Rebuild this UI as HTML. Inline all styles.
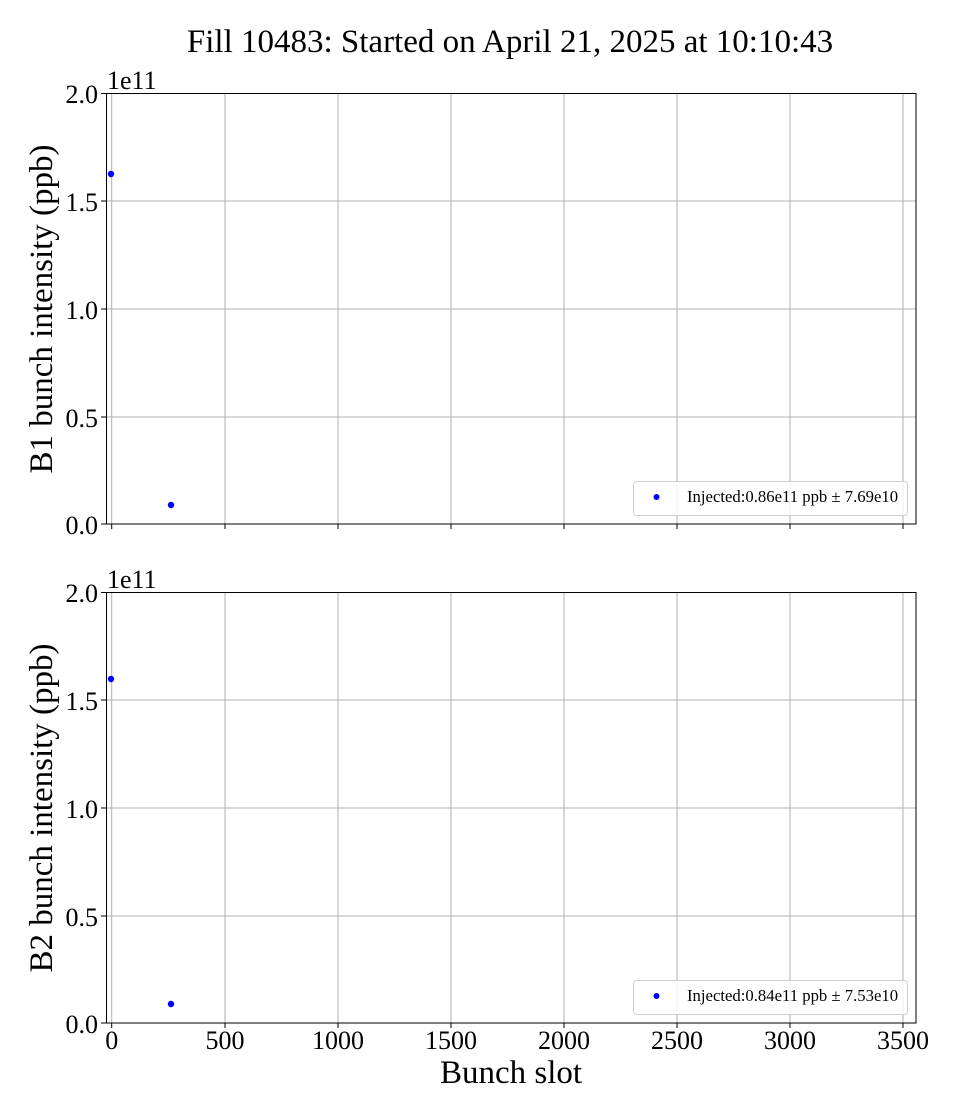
<!DOCTYPE html>
<html><head><meta charset="utf-8"><style>body{margin:0;background:#fff}svg{display:block}</style></head><body>
<svg width="960" height="1120" xmlns="http://www.w3.org/2000/svg" font-family="Liberation Serif, serif">
<rect width="960" height="1120" fill="#fff"/>
<text x="510" y="52" font-size="33" text-anchor="middle">Fill 10483: Started on April 21, 2025 at 10:10:43</text>
<g id="p1">
<g stroke="#b0b0b0" stroke-width="1">
<line x1="111.7" y1="93" x2="111.7" y2="524"/><line x1="225" y1="93" x2="225" y2="524"/><line x1="338" y1="93" x2="338" y2="524"/><line x1="451" y1="93" x2="451" y2="524"/><line x1="564" y1="93" x2="564" y2="524"/><line x1="677" y1="93" x2="677" y2="524"/><line x1="790" y1="93" x2="790" y2="524"/><line x1="903" y1="93" x2="903" y2="524"/>
<line x1="107" y1="201" x2="916" y2="201"/><line x1="107" y1="309" x2="916" y2="309"/><line x1="107" y1="417" x2="916" y2="417"/>
</g>
<rect x="106.5" y="93.5" width="809.5" height="430.5" fill="none" stroke="#000" stroke-width="1"/>
<g stroke="#000"><line x1="111.7" y1="524" x2="111.7" y2="529"/><line x1="225" y1="524" x2="225" y2="529"/><line x1="338" y1="524" x2="338" y2="529"/><line x1="451" y1="524" x2="451" y2="529"/><line x1="564" y1="524" x2="564" y2="529"/><line x1="677" y1="524" x2="677" y2="529"/><line x1="790" y1="524" x2="790" y2="529"/><line x1="903" y1="524" x2="903" y2="529"/>
<line x1="101" y1="93.5" x2="106.5" y2="93.5"/><line x1="101" y1="201" x2="106.5" y2="201"/><line x1="101" y1="309" x2="106.5" y2="309"/><line x1="101" y1="417" x2="106.5" y2="417"/><line x1="101" y1="524" x2="106.5" y2="524"/></g>
<g font-size="26" text-anchor="end"><text x="98" y="103">2.0</text><text x="98" y="211">1.5</text><text x="98" y="319">1.0</text><text x="98" y="427">0.5</text><text x="98" y="534">0.0</text></g>
<text x="107" y="89" font-size="26">1e11</text>
<text transform="translate(52,309) rotate(-90)" font-size="33" text-anchor="middle">B1 bunch intensity (ppb)</text>
<circle cx="111" cy="174" r="3.2" fill="#0000ff"/><circle cx="171" cy="505" r="3.2" fill="#0000ff"/>
<rect x="633.5" y="481.5" width="274" height="34" rx="3" fill="#fff" fill-opacity="0.8" stroke="#d0d0d0"/>
<circle cx="656.5" cy="497" r="3" fill="#0000ff"/>
<text x="687" y="502" font-size="16.7">Injected:0.86e11 ppb ± 7.69e10</text>
</g>
<g transform="translate(0,499)">
<g stroke="#b0b0b0" stroke-width="1">
<line x1="111.7" y1="93" x2="111.7" y2="524"/><line x1="225" y1="93" x2="225" y2="524"/><line x1="338" y1="93" x2="338" y2="524"/><line x1="451" y1="93" x2="451" y2="524"/><line x1="564" y1="93" x2="564" y2="524"/><line x1="677" y1="93" x2="677" y2="524"/><line x1="790" y1="93" x2="790" y2="524"/><line x1="903" y1="93" x2="903" y2="524"/>
<line x1="107" y1="201" x2="916" y2="201"/><line x1="107" y1="309" x2="916" y2="309"/><line x1="107" y1="417" x2="916" y2="417"/>
</g>
<rect x="106.5" y="93.5" width="809.5" height="430.5" fill="none" stroke="#000" stroke-width="1"/>
<g stroke="#000"><line x1="111.7" y1="524" x2="111.7" y2="529"/><line x1="225" y1="524" x2="225" y2="529"/><line x1="338" y1="524" x2="338" y2="529"/><line x1="451" y1="524" x2="451" y2="529"/><line x1="564" y1="524" x2="564" y2="529"/><line x1="677" y1="524" x2="677" y2="529"/><line x1="790" y1="524" x2="790" y2="529"/><line x1="903" y1="524" x2="903" y2="529"/>
<line x1="101" y1="93.5" x2="106.5" y2="93.5"/><line x1="101" y1="201" x2="106.5" y2="201"/><line x1="101" y1="309" x2="106.5" y2="309"/><line x1="101" y1="417" x2="106.5" y2="417"/><line x1="101" y1="524" x2="106.5" y2="524"/></g>
<g font-size="26" text-anchor="end"><text x="98" y="103">2.0</text><text x="98" y="211">1.5</text><text x="98" y="319">1.0</text><text x="98" y="427">0.5</text><text x="98" y="534">0.0</text></g>
<text x="107" y="89" font-size="26">1e11</text>
<text transform="translate(52,309) rotate(-90)" font-size="33" text-anchor="middle">B2 bunch intensity (ppb)</text>
<circle cx="111" cy="180" r="3.2" fill="#0000ff"/><circle cx="171" cy="505" r="3.2" fill="#0000ff"/>
<rect x="633.5" y="481.5" width="274" height="34" rx="3" fill="#fff" fill-opacity="0.8" stroke="#d0d0d0"/>
<circle cx="656.5" cy="497" r="3" fill="#0000ff"/>
<text x="687" y="502" font-size="16.7">Injected:0.84e11 ppb ± 7.53e10</text>
<g font-size="26" text-anchor="middle"><text x="111.7" y="550">0</text><text x="225" y="550">500</text><text x="338" y="550">1000</text><text x="451" y="550">1500</text><text x="564" y="550">2000</text><text x="677" y="550">2500</text><text x="790" y="550">3000</text><text x="903" y="550">3500</text></g>
</g>
<text x="511" y="1083" font-size="33" text-anchor="middle">Bunch slot</text>
</svg>
</body></html>
